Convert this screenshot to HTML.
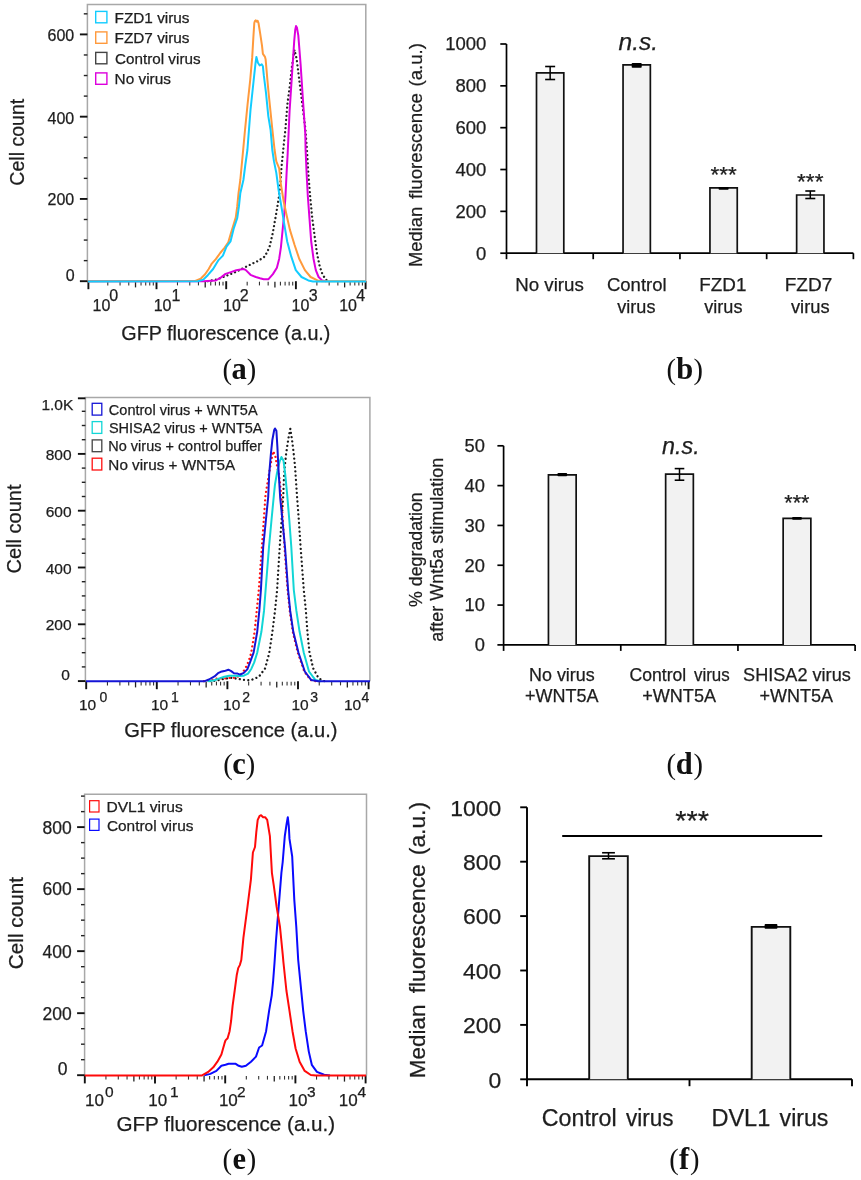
<!DOCTYPE html>
<html><head><meta charset="utf-8"><style>
html,body{margin:0;padding:0;background:#fff;}
svg{display:block;will-change:transform;}
svg text{stroke:#1a1a1a;stroke-width:0.25px;}
</style></head><body>
<svg width="861" height="1180" viewBox="0 0 861 1180">
<rect width="861" height="1180" fill="#fff"/>
<path d="M87.4,281.2V4.4H365.8V281.2" fill="none" stroke="#a8a8a8" stroke-width="1.5"/>
<line x1="79.90" y1="281.20" x2="87.40" y2="281.20" stroke="#111" stroke-width="1.9" />
<line x1="83.80" y1="260.63" x2="87.40" y2="260.63" stroke="#222" stroke-width="1.4" />
<line x1="83.80" y1="240.07" x2="87.40" y2="240.07" stroke="#222" stroke-width="1.4" />
<line x1="83.80" y1="219.50" x2="87.40" y2="219.50" stroke="#222" stroke-width="1.4" />
<line x1="79.90" y1="198.93" x2="87.40" y2="198.93" stroke="#111" stroke-width="1.9" />
<line x1="83.80" y1="178.37" x2="87.40" y2="178.37" stroke="#222" stroke-width="1.4" />
<line x1="83.80" y1="157.80" x2="87.40" y2="157.80" stroke="#222" stroke-width="1.4" />
<line x1="83.80" y1="137.23" x2="87.40" y2="137.23" stroke="#222" stroke-width="1.4" />
<line x1="79.90" y1="116.67" x2="87.40" y2="116.67" stroke="#111" stroke-width="1.9" />
<line x1="83.80" y1="96.10" x2="87.40" y2="96.10" stroke="#222" stroke-width="1.4" />
<line x1="83.80" y1="75.53" x2="87.40" y2="75.53" stroke="#222" stroke-width="1.4" />
<line x1="83.80" y1="54.97" x2="87.40" y2="54.97" stroke="#222" stroke-width="1.4" />
<line x1="79.90" y1="34.40" x2="87.40" y2="34.40" stroke="#111" stroke-width="1.9" />
<line x1="83.80" y1="13.83" x2="87.40" y2="13.83" stroke="#222" stroke-width="1.4" />
<line x1="88.40" y1="281.20" x2="88.40" y2="289.20" stroke="#111" stroke-width="1.9" />
<line x1="107.78" y1="281.70" x2="107.78" y2="285.40" stroke="#333" stroke-width="1.1" />
<line x1="120.06" y1="281.70" x2="120.06" y2="285.40" stroke="#333" stroke-width="1.1" />
<line x1="128.76" y1="281.70" x2="128.76" y2="285.40" stroke="#333" stroke-width="1.1" />
<line x1="135.52" y1="281.70" x2="135.52" y2="287.40" stroke="#222" stroke-width="1.3" />
<line x1="141.04" y1="281.70" x2="141.04" y2="285.40" stroke="#333" stroke-width="1.1" />
<line x1="145.70" y1="281.70" x2="145.70" y2="285.40" stroke="#333" stroke-width="1.1" />
<line x1="149.75" y1="281.70" x2="149.75" y2="285.40" stroke="#333" stroke-width="1.1" />
<line x1="153.31" y1="281.70" x2="153.31" y2="285.40" stroke="#333" stroke-width="1.1" />
<line x1="156.50" y1="281.20" x2="156.50" y2="289.20" stroke="#111" stroke-width="1.9" />
<line x1="177.48" y1="281.70" x2="177.48" y2="285.40" stroke="#333" stroke-width="1.1" />
<line x1="189.76" y1="281.70" x2="189.76" y2="285.40" stroke="#333" stroke-width="1.1" />
<line x1="198.46" y1="281.70" x2="198.46" y2="285.40" stroke="#333" stroke-width="1.1" />
<line x1="205.22" y1="281.70" x2="205.22" y2="287.40" stroke="#222" stroke-width="1.3" />
<line x1="210.74" y1="281.70" x2="210.74" y2="285.40" stroke="#333" stroke-width="1.1" />
<line x1="215.40" y1="281.70" x2="215.40" y2="285.40" stroke="#333" stroke-width="1.1" />
<line x1="219.45" y1="281.70" x2="219.45" y2="285.40" stroke="#333" stroke-width="1.1" />
<line x1="223.01" y1="281.70" x2="223.01" y2="285.40" stroke="#333" stroke-width="1.1" />
<line x1="226.20" y1="281.20" x2="226.20" y2="289.20" stroke="#111" stroke-width="1.9" />
<line x1="247.18" y1="281.70" x2="247.18" y2="285.40" stroke="#333" stroke-width="1.1" />
<line x1="259.46" y1="281.70" x2="259.46" y2="285.40" stroke="#333" stroke-width="1.1" />
<line x1="268.16" y1="281.70" x2="268.16" y2="285.40" stroke="#333" stroke-width="1.1" />
<line x1="274.92" y1="281.70" x2="274.92" y2="287.40" stroke="#222" stroke-width="1.3" />
<line x1="280.44" y1="281.70" x2="280.44" y2="285.40" stroke="#333" stroke-width="1.1" />
<line x1="285.10" y1="281.70" x2="285.10" y2="285.40" stroke="#333" stroke-width="1.1" />
<line x1="289.15" y1="281.70" x2="289.15" y2="285.40" stroke="#333" stroke-width="1.1" />
<line x1="292.71" y1="281.70" x2="292.71" y2="285.40" stroke="#333" stroke-width="1.1" />
<line x1="295.90" y1="281.20" x2="295.90" y2="289.20" stroke="#111" stroke-width="1.9" />
<line x1="316.88" y1="281.70" x2="316.88" y2="285.40" stroke="#333" stroke-width="1.1" />
<line x1="329.16" y1="281.70" x2="329.16" y2="285.40" stroke="#333" stroke-width="1.1" />
<line x1="337.86" y1="281.70" x2="337.86" y2="285.40" stroke="#333" stroke-width="1.1" />
<line x1="344.62" y1="281.70" x2="344.62" y2="287.40" stroke="#222" stroke-width="1.3" />
<line x1="350.14" y1="281.70" x2="350.14" y2="285.40" stroke="#333" stroke-width="1.1" />
<line x1="354.80" y1="281.70" x2="354.80" y2="285.40" stroke="#333" stroke-width="1.1" />
<line x1="358.85" y1="281.70" x2="358.85" y2="285.40" stroke="#333" stroke-width="1.1" />
<line x1="362.41" y1="281.70" x2="362.41" y2="285.40" stroke="#333" stroke-width="1.1" />
<line x1="365.60" y1="281.20" x2="365.60" y2="289.20" stroke="#111" stroke-width="1.9" />
<text x="74.60" y="280.60" font-family="Liberation Sans, sans-serif" font-size="16" text-anchor="end" font-weight="normal" font-style="normal" fill="#1e1e1e" >0</text>
<text x="74.20" y="204.80" font-family="Liberation Sans, sans-serif" font-size="16" text-anchor="end" font-weight="normal" font-style="normal" fill="#1e1e1e" >200</text>
<text x="74.20" y="123.70" font-family="Liberation Sans, sans-serif" font-size="16" text-anchor="end" font-weight="normal" font-style="normal" fill="#1e1e1e" >400</text>
<text x="74.20" y="40.80" font-family="Liberation Sans, sans-serif" font-size="16" text-anchor="end" font-weight="normal" font-style="normal" fill="#1e1e1e" >600</text>
<text x="92.60" y="311.10" font-family="Liberation Sans, sans-serif" font-size="16" fill="#1e1e1e">10</text>
<text x="109.20" y="301.40" font-family="Liberation Sans, sans-serif" font-size="16" fill="#1e1e1e">0</text>
<text x="153.70" y="311.10" font-family="Liberation Sans, sans-serif" font-size="16" fill="#1e1e1e">10</text>
<text x="171.40" y="301.40" font-family="Liberation Sans, sans-serif" font-size="16" fill="#1e1e1e">1</text>
<text x="223.10" y="311.10" font-family="Liberation Sans, sans-serif" font-size="16" fill="#1e1e1e">10</text>
<text x="239.80" y="301.40" font-family="Liberation Sans, sans-serif" font-size="16" fill="#1e1e1e">2</text>
<text x="291.60" y="311.10" font-family="Liberation Sans, sans-serif" font-size="16" fill="#1e1e1e">10</text>
<text x="308.70" y="301.40" font-family="Liberation Sans, sans-serif" font-size="16" fill="#1e1e1e">3</text>
<text x="339.20" y="311.10" font-family="Liberation Sans, sans-serif" font-size="16" fill="#1e1e1e">10</text>
<text x="356.20" y="301.40" font-family="Liberation Sans, sans-serif" font-size="16" fill="#1e1e1e">4</text>
<polyline points="207.8,281.2 216.7,279.6 225.6,276.1 234.5,272.5 243.4,268.1 252.3,263.6 258.0,261.0 264.9,256.4 269.4,247.3 272.9,232.4 275.7,216.4 278.6,199.2 280.3,184.3 281.5,167.2 283.2,150.0 285.5,128.2 287.3,105.0 289.6,87.6 291.9,66.7 294.5,49.9 296.6,58.6 299.5,81.8 302.4,105.0 305.3,128.2 307.0,150.0 308.3,172.9 310.1,195.8 312.3,218.6 314.6,235.8 316.9,253.0 319.8,266.7 322.6,274.7 326.1,279.8 329.0,281.2" fill="none" stroke="#222" stroke-width="2.3" stroke-linejoin="round" stroke-dasharray="0.01 4.1" stroke-linecap="round"/>
<polyline points="88.0,281.2 203.3,281.2 215.8,280.5 221.1,277.4 225.6,273.9 230.9,272.1 236.3,270.3 243.4,269.0 245.6,269.9 250.5,274.8 255.8,277.0 260.0,278.3 263.7,279.3 268.3,279.3 272.9,274.1 276.9,267.8 279.2,258.7 280.9,247.3 282.6,230.1 284.3,212.9 285.5,195.8 286.6,172.9 287.6,155.0 289.6,110.8 291.9,76.0 294.2,41.2 295.2,30.0 296.0,26.1 296.9,27.5 298.3,35.4 300.6,64.4 302.9,99.2 305.3,134.0 305.6,150.0 306.6,172.9 307.8,195.8 309.5,218.6 311.2,241.5 313.5,258.7 315.8,270.1 318.6,277.0 322.1,280.4 326.0,281.2" fill="none" stroke="#dd00dd" stroke-width="2.0" stroke-linejoin="round"/>
<polyline points="88.0,281.2 195.3,281.0 200.7,278.8 205.1,274.3 208.7,269.0 211.8,263.6 215.8,259.2 220.2,253.0 224.7,247.6 228.3,242.3 230.9,233.4 233.6,224.5 235.8,217.4 237.2,206.7 238.5,193.3 240.3,180.0 243.0,151.6 245.0,130.0 247.5,105.0 250.2,80.0 252.2,57.4 253.4,36.7 254.3,23.0 254.9,21.0 255.8,20.4 256.7,21.6 257.6,20.7 258.5,23.0 260.2,33.7 262.0,45.6 262.9,53.9 265.0,56.9 265.6,59.2 266.5,69.3 267.4,80.0 268.6,93.0 272.2,128.0 273.5,140.0 274.6,150.0 276.3,161.4 279.2,168.3 280.9,184.3 283.7,201.5 286.6,215.2 290.0,230.1 294.6,245.0 299.2,258.7 304.9,270.1 310.6,277.0 317.5,280.4 322.0,281.2 366.0,281.2" fill="none" stroke="#ff9a3c" stroke-width="2.0" stroke-linejoin="round"/>
<polyline points="88.0,281.4 198.0,281.2 203.3,279.6 207.8,275.2 213.1,269.0 218.5,260.1 222.9,255.6 226.5,246.7 230.5,241.4 233.6,228.9 237.2,218.3 238.9,206.7 240.3,193.3 243.4,180.0 245.3,165.0 247.4,150.0 250.5,110.0 253.7,80.0 255.5,63.4 256.4,56.9 257.9,62.8 259.7,65.5 261.7,64.3 262.9,66.3 263.8,75.2 264.4,80.0 266.0,92.9 268.3,116.1 270.6,130.0 272.3,150.0 274.0,161.4 276.3,172.9 278.6,190.0 281.5,207.2 284.3,224.4 287.2,241.5 291.2,256.4 295.8,270.1 301.5,277.0 308.3,280.4 313.0,281.4 366.0,281.4" fill="none" stroke="#12ccff" stroke-width="2.0" stroke-linejoin="round"/>
<rect x="95.70" y="11.40" width="11.20" height="11.40" fill="none" stroke="#12ccff" stroke-width="1.4"/>
<text x="114.54" y="22.50" font-family="Liberation Sans, sans-serif" font-size="15.30" font-style="normal" fill="#1e1e1e" textLength="75.01" lengthAdjust="spacingAndGlyphs" >FZD1 virus</text>
<rect x="95.70" y="31.90" width="11.20" height="11.40" fill="none" stroke="#ff9a3c" stroke-width="1.4"/>
<text x="114.54" y="43.40" font-family="Liberation Sans, sans-serif" font-size="15.30" font-style="normal" fill="#1e1e1e" textLength="75.01" lengthAdjust="spacingAndGlyphs" >FZD7 virus</text>
<rect x="95.70" y="52.40" width="11.20" height="11.40" fill="none" stroke="#444" stroke-width="1.4"/>
<text x="115.02" y="64.00" font-family="Liberation Sans, sans-serif" font-size="15.30" font-style="normal" fill="#1e1e1e" textLength="85.53" lengthAdjust="spacingAndGlyphs" >Control virus</text>
<rect x="95.70" y="72.90" width="11.20" height="11.40" fill="none" stroke="#dd00dd" stroke-width="1.4"/>
<text x="114.54" y="84.40" font-family="Liberation Sans, sans-serif" font-size="15.30" font-style="normal" fill="#1e1e1e" textLength="56.41" lengthAdjust="spacingAndGlyphs" >No virus</text>
<text x="0" y="0" transform="translate(24.10,185.69) rotate(-90)" font-family="Liberation Sans, sans-serif" font-size="19.57" fill="#1e1e1e" >Cell count</text>
<text x="121.31" y="340.00" font-family="Liberation Sans, sans-serif" font-size="19.74" font-style="normal" fill="#1e1e1e" >GFP fluorescence (a.u.)</text>
<text x="231.51" y="378.70" font-family="Liberation Serif, serif" font-size="30.5" font-weight="bold" fill="#111" style="stroke:none">a</text>
<text x="222.45" y="378.70" font-family="Liberation Serif, serif" font-size="28.5" fill="#111" style="stroke:none">(</text>
<text x="246.86" y="378.70" font-family="Liberation Serif, serif" font-size="28.5" fill="#111" style="stroke:none">)</text>
<path d="M85.4,681.2V397.4H369.9V681.2" fill="none" stroke="#a8a8a8" stroke-width="1.5"/>
<line x1="77.90" y1="681.10" x2="85.40" y2="681.10" stroke="#111" stroke-width="1.9" />
<line x1="81.80" y1="666.90" x2="85.40" y2="666.90" stroke="#222" stroke-width="1.4" />
<line x1="81.80" y1="652.70" x2="85.40" y2="652.70" stroke="#222" stroke-width="1.4" />
<line x1="81.80" y1="638.50" x2="85.40" y2="638.50" stroke="#222" stroke-width="1.4" />
<line x1="77.90" y1="624.30" x2="85.40" y2="624.30" stroke="#111" stroke-width="1.9" />
<line x1="81.80" y1="610.10" x2="85.40" y2="610.10" stroke="#222" stroke-width="1.4" />
<line x1="81.80" y1="595.90" x2="85.40" y2="595.90" stroke="#222" stroke-width="1.4" />
<line x1="81.80" y1="581.70" x2="85.40" y2="581.70" stroke="#222" stroke-width="1.4" />
<line x1="77.90" y1="567.50" x2="85.40" y2="567.50" stroke="#111" stroke-width="1.9" />
<line x1="81.80" y1="553.30" x2="85.40" y2="553.30" stroke="#222" stroke-width="1.4" />
<line x1="81.80" y1="539.10" x2="85.40" y2="539.10" stroke="#222" stroke-width="1.4" />
<line x1="81.80" y1="524.90" x2="85.40" y2="524.90" stroke="#222" stroke-width="1.4" />
<line x1="77.90" y1="510.70" x2="85.40" y2="510.70" stroke="#111" stroke-width="1.9" />
<line x1="81.80" y1="496.50" x2="85.40" y2="496.50" stroke="#222" stroke-width="1.4" />
<line x1="81.80" y1="482.30" x2="85.40" y2="482.30" stroke="#222" stroke-width="1.4" />
<line x1="81.80" y1="468.10" x2="85.40" y2="468.10" stroke="#222" stroke-width="1.4" />
<line x1="77.90" y1="453.90" x2="85.40" y2="453.90" stroke="#111" stroke-width="1.9" />
<line x1="81.80" y1="439.70" x2="85.40" y2="439.70" stroke="#222" stroke-width="1.4" />
<line x1="81.80" y1="425.50" x2="85.40" y2="425.50" stroke="#222" stroke-width="1.4" />
<line x1="81.80" y1="411.30" x2="85.40" y2="411.30" stroke="#222" stroke-width="1.4" />
<line x1="77.90" y1="398.30" x2="85.40" y2="398.30" stroke="#111" stroke-width="1.9" />
<line x1="86.20" y1="681.20" x2="86.20" y2="689.20" stroke="#111" stroke-width="1.9" />
<line x1="107.45" y1="681.70" x2="107.45" y2="685.40" stroke="#333" stroke-width="1.1" />
<line x1="119.88" y1="681.70" x2="119.88" y2="685.40" stroke="#333" stroke-width="1.1" />
<line x1="128.71" y1="681.70" x2="128.71" y2="685.40" stroke="#333" stroke-width="1.1" />
<line x1="135.55" y1="681.70" x2="135.55" y2="687.40" stroke="#222" stroke-width="1.3" />
<line x1="141.14" y1="681.70" x2="141.14" y2="685.40" stroke="#333" stroke-width="1.1" />
<line x1="145.86" y1="681.70" x2="145.86" y2="685.40" stroke="#333" stroke-width="1.1" />
<line x1="149.96" y1="681.70" x2="149.96" y2="685.40" stroke="#333" stroke-width="1.1" />
<line x1="153.57" y1="681.70" x2="153.57" y2="685.40" stroke="#333" stroke-width="1.1" />
<line x1="156.80" y1="681.20" x2="156.80" y2="689.20" stroke="#111" stroke-width="1.9" />
<line x1="178.05" y1="681.70" x2="178.05" y2="685.40" stroke="#333" stroke-width="1.1" />
<line x1="190.48" y1="681.70" x2="190.48" y2="685.40" stroke="#333" stroke-width="1.1" />
<line x1="199.31" y1="681.70" x2="199.31" y2="685.40" stroke="#333" stroke-width="1.1" />
<line x1="206.15" y1="681.70" x2="206.15" y2="687.40" stroke="#222" stroke-width="1.3" />
<line x1="211.74" y1="681.70" x2="211.74" y2="685.40" stroke="#333" stroke-width="1.1" />
<line x1="216.46" y1="681.70" x2="216.46" y2="685.40" stroke="#333" stroke-width="1.1" />
<line x1="220.56" y1="681.70" x2="220.56" y2="685.40" stroke="#333" stroke-width="1.1" />
<line x1="224.17" y1="681.70" x2="224.17" y2="685.40" stroke="#333" stroke-width="1.1" />
<line x1="227.40" y1="681.20" x2="227.40" y2="689.20" stroke="#111" stroke-width="1.9" />
<line x1="248.65" y1="681.70" x2="248.65" y2="685.40" stroke="#333" stroke-width="1.1" />
<line x1="261.08" y1="681.70" x2="261.08" y2="685.40" stroke="#333" stroke-width="1.1" />
<line x1="269.91" y1="681.70" x2="269.91" y2="685.40" stroke="#333" stroke-width="1.1" />
<line x1="276.75" y1="681.70" x2="276.75" y2="687.40" stroke="#222" stroke-width="1.3" />
<line x1="282.34" y1="681.70" x2="282.34" y2="685.40" stroke="#333" stroke-width="1.1" />
<line x1="287.06" y1="681.70" x2="287.06" y2="685.40" stroke="#333" stroke-width="1.1" />
<line x1="291.16" y1="681.70" x2="291.16" y2="685.40" stroke="#333" stroke-width="1.1" />
<line x1="294.77" y1="681.70" x2="294.77" y2="685.40" stroke="#333" stroke-width="1.1" />
<line x1="298.00" y1="681.20" x2="298.00" y2="689.20" stroke="#111" stroke-width="1.9" />
<line x1="319.25" y1="681.70" x2="319.25" y2="685.40" stroke="#333" stroke-width="1.1" />
<line x1="331.68" y1="681.70" x2="331.68" y2="685.40" stroke="#333" stroke-width="1.1" />
<line x1="340.51" y1="681.70" x2="340.51" y2="685.40" stroke="#333" stroke-width="1.1" />
<line x1="347.35" y1="681.70" x2="347.35" y2="687.40" stroke="#222" stroke-width="1.3" />
<line x1="352.94" y1="681.70" x2="352.94" y2="685.40" stroke="#333" stroke-width="1.1" />
<line x1="357.66" y1="681.70" x2="357.66" y2="685.40" stroke="#333" stroke-width="1.1" />
<line x1="361.76" y1="681.70" x2="361.76" y2="685.40" stroke="#333" stroke-width="1.1" />
<line x1="365.37" y1="681.70" x2="365.37" y2="685.40" stroke="#333" stroke-width="1.1" />
<line x1="368.60" y1="681.20" x2="368.60" y2="689.20" stroke="#111" stroke-width="1.9" />
<text x="69.90" y="680.20" font-family="Liberation Sans, sans-serif" font-size="15.5" text-anchor="end" font-weight="normal" font-style="normal" fill="#1e1e1e" >0</text>
<text x="71.60" y="630.00" font-family="Liberation Sans, sans-serif" font-size="15.5" text-anchor="end" font-weight="normal" font-style="normal" fill="#1e1e1e" >200</text>
<text x="71.60" y="573.50" font-family="Liberation Sans, sans-serif" font-size="15.5" text-anchor="end" font-weight="normal" font-style="normal" fill="#1e1e1e" >400</text>
<text x="71.60" y="517.00" font-family="Liberation Sans, sans-serif" font-size="15.5" text-anchor="end" font-weight="normal" font-style="normal" fill="#1e1e1e" >600</text>
<text x="71.60" y="460.00" font-family="Liberation Sans, sans-serif" font-size="15.5" text-anchor="end" font-weight="normal" font-style="normal" fill="#1e1e1e" >800</text>
<text x="73.30" y="410.00" font-family="Liberation Sans, sans-serif" font-size="15.5" text-anchor="end" font-weight="normal" font-style="normal" fill="#1e1e1e" >1.0K</text>
<text x="78.90" y="710.00" font-family="Liberation Sans, sans-serif" font-size="15.5" fill="#1e1e1e">10</text>
<text x="99.45" y="702.00" font-family="Liberation Sans, sans-serif" font-size="14" fill="#1e1e1e">0</text>
<text x="150.90" y="710.00" font-family="Liberation Sans, sans-serif" font-size="15.5" fill="#1e1e1e">10</text>
<text x="170.90" y="702.00" font-family="Liberation Sans, sans-serif" font-size="14" fill="#1e1e1e">1</text>
<text x="223.10" y="710.00" font-family="Liberation Sans, sans-serif" font-size="15.5" fill="#1e1e1e">10</text>
<text x="242.20" y="702.00" font-family="Liberation Sans, sans-serif" font-size="14" fill="#1e1e1e">2</text>
<text x="291.50" y="710.00" font-family="Liberation Sans, sans-serif" font-size="15.5" fill="#1e1e1e">10</text>
<text x="310.20" y="702.00" font-family="Liberation Sans, sans-serif" font-size="14" fill="#1e1e1e">3</text>
<text x="343.90" y="710.00" font-family="Liberation Sans, sans-serif" font-size="15.5" fill="#1e1e1e">10</text>
<text x="361.50" y="702.00" font-family="Liberation Sans, sans-serif" font-size="14" fill="#1e1e1e">4</text>
<polyline points="210.0,681.2 214.5,680.9 222.9,679.1 231.2,677.8 239.6,679.1 243.1,679.9 250.5,680.4 258.8,676.8 265.1,668.4 269.3,652.7 272.4,631.8 275.0,610.9 277.1,590.0 279.7,547.0 281.6,520.0 283.3,495.0 283.8,481.0 284.8,466.1 286.2,453.2 287.5,444.4 288.9,435.6 290.3,428.8 292.0,439.7 293.6,452.5 295.0,466.1 296.0,481.0 297.0,496.0 298.8,520.0 300.6,547.0 303.8,590.0 305.9,610.9 307.4,631.8 309.5,652.7 313.2,668.4 318.4,677.8 322.6,680.9 326.0,681.2" fill="none" stroke="#1a1a1a" stroke-width="2.3" stroke-linejoin="round" stroke-dasharray="0.01 4.3" stroke-linecap="round"/>
<polyline points="204.0,681.2 212.4,679.8 218.0,678.4 224.3,678.4 231.2,677.8 235.4,677.8 239.6,675.7 243.8,670.8 246.6,665.9 248.7,661.0 251.1,653.4 254.6,631.8 256.7,610.9 258.8,590.0 261.9,547.0 265.5,495.0 268.6,476.3 271.3,460.7 273.2,451.2 275.3,455.9 276.7,464.1 279.4,477.6 281.4,498.0 284.5,547.0 287.6,590.0 289.8,610.9 292.8,631.8 297.8,652.7 304.3,671.5 310.6,679.9 316.0,681.2" fill="none" stroke="#ff1010" stroke-width="2.3" stroke-linejoin="round" stroke-dasharray="0.01 4.3" stroke-linecap="round"/>
<polyline points="207.5,681.2 214.5,680.2 219.4,678.4 224.3,676.7 229.1,675.7 234.0,675.7 239.6,676.0 243.8,675.7 248.0,673.6 251.4,668.7 254.2,662.4 257.2,652.7 261.4,631.8 264.0,610.9 265.6,590.0 269.0,547.0 271.5,520.0 273.9,495.0 275.0,484.4 277.0,472.9 279.5,462.0 281.4,457.0 283.5,460.7 285.2,474.2 287.2,495.0 289.3,520.0 291.3,547.0 293.8,590.0 296.4,610.9 299.6,631.8 303.8,652.7 309.0,671.5 315.3,679.9 321.0,681.2" fill="none" stroke="#12d6d6" stroke-width="2.0" stroke-linejoin="round"/>
<polyline points="86.0,681.2 204.8,681.2 208.9,679.5 214.5,676.4 218.0,673.2 220.8,671.8 224.3,671.1 228.4,669.7 231.2,671.1 234.0,673.2 237.5,673.6 240.3,674.6 243.8,672.9 247.3,669.4 250.0,662.4 253.6,652.7 257.2,631.8 259.3,610.9 260.9,590.0 263.2,547.0 265.9,520.0 268.2,497.0 269.2,474.2 270.9,453.9 272.3,440.3 274.2,430.0 275.0,428.5 276.4,430.8 277.4,447.1 278.4,467.5 279.4,484.4 280.2,498.0 282.4,520.0 285.0,547.0 288.1,590.0 290.2,610.9 293.3,631.8 298.5,652.7 304.8,671.5 311.1,679.9 318.4,681.2 370.0,681.2" fill="none" stroke="#1414d6" stroke-width="2.0" stroke-linejoin="round"/>
<rect x="92.20" y="403.30" width="9.60" height="11.80" fill="none" stroke="#1414d6" stroke-width="1.3"/>
<text x="108.84" y="414.70" font-family="Liberation Sans, sans-serif" font-size="15.00" font-style="normal" fill="#1e1e1e" textLength="148.79" lengthAdjust="spacingAndGlyphs" >Control virus + WNT5A</text>
<rect x="92.20" y="421.60" width="9.60" height="11.80" fill="none" stroke="#12d6d6" stroke-width="1.3"/>
<text x="108.92" y="432.90" font-family="Liberation Sans, sans-serif" font-size="15.00" font-style="normal" fill="#1e1e1e" textLength="153.61" lengthAdjust="spacingAndGlyphs" >SHISA2 virus + WNT5A</text>
<rect x="92.20" y="439.90" width="9.60" height="11.80" fill="none" stroke="#444" stroke-width="1.3"/>
<text x="108.37" y="451.00" font-family="Liberation Sans, sans-serif" font-size="15.00" font-style="normal" fill="#1e1e1e" textLength="153.68" lengthAdjust="spacingAndGlyphs" >No virus + control buffer</text>
<rect x="92.20" y="458.20" width="9.60" height="11.80" fill="none" stroke="#ff1010" stroke-width="1.3"/>
<text x="108.37" y="469.60" font-family="Liberation Sans, sans-serif" font-size="15.00" font-style="normal" fill="#1e1e1e" textLength="126.76" lengthAdjust="spacingAndGlyphs" >No virus + WNT5A</text>
<text x="0" y="0" transform="translate(20.80,573.52) rotate(-90)" font-family="Liberation Sans, sans-serif" font-size="20.03" fill="#1e1e1e" >Cell count</text>
<text x="124.19" y="736.70" font-family="Liberation Sans, sans-serif" font-size="20.14" font-style="normal" fill="#1e1e1e" >GFP fluorescence (a.u.)</text>
<text x="232.34" y="773.50" font-family="Liberation Serif, serif" font-size="30.5" font-weight="bold" fill="#111" style="stroke:none">c</text>
<text x="223.35" y="773.50" font-family="Liberation Serif, serif" font-size="28.5" fill="#111" style="stroke:none">(</text>
<text x="245.66" y="773.50" font-family="Liberation Serif, serif" font-size="28.5" fill="#111" style="stroke:none">)</text>
<path d="M84.6,1075.4V794.3H366.5V1075.4" fill="none" stroke="#a8a8a8" stroke-width="1.5"/>
<line x1="77.10" y1="1075.20" x2="84.60" y2="1075.20" stroke="#111" stroke-width="1.9" />
<line x1="81.00" y1="1059.69" x2="84.60" y2="1059.69" stroke="#222" stroke-width="1.4" />
<line x1="81.00" y1="1044.19" x2="84.60" y2="1044.19" stroke="#222" stroke-width="1.4" />
<line x1="81.00" y1="1028.68" x2="84.60" y2="1028.68" stroke="#222" stroke-width="1.4" />
<line x1="77.10" y1="1013.18" x2="84.60" y2="1013.18" stroke="#111" stroke-width="1.9" />
<line x1="81.00" y1="997.68" x2="84.60" y2="997.68" stroke="#222" stroke-width="1.4" />
<line x1="81.00" y1="982.17" x2="84.60" y2="982.17" stroke="#222" stroke-width="1.4" />
<line x1="81.00" y1="966.67" x2="84.60" y2="966.67" stroke="#222" stroke-width="1.4" />
<line x1="77.10" y1="951.16" x2="84.60" y2="951.16" stroke="#111" stroke-width="1.9" />
<line x1="81.00" y1="935.66" x2="84.60" y2="935.66" stroke="#222" stroke-width="1.4" />
<line x1="81.00" y1="920.15" x2="84.60" y2="920.15" stroke="#222" stroke-width="1.4" />
<line x1="81.00" y1="904.64" x2="84.60" y2="904.64" stroke="#222" stroke-width="1.4" />
<line x1="77.10" y1="889.14" x2="84.60" y2="889.14" stroke="#111" stroke-width="1.9" />
<line x1="81.00" y1="873.63" x2="84.60" y2="873.63" stroke="#222" stroke-width="1.4" />
<line x1="81.00" y1="858.13" x2="84.60" y2="858.13" stroke="#222" stroke-width="1.4" />
<line x1="81.00" y1="842.62" x2="84.60" y2="842.62" stroke="#222" stroke-width="1.4" />
<line x1="77.10" y1="827.12" x2="84.60" y2="827.12" stroke="#111" stroke-width="1.9" />
<line x1="81.00" y1="811.62" x2="84.60" y2="811.62" stroke="#222" stroke-width="1.4" />
<line x1="81.00" y1="796.11" x2="84.60" y2="796.11" stroke="#222" stroke-width="1.4" />
<line x1="84.80" y1="1075.40" x2="84.80" y2="1083.40" stroke="#111" stroke-width="1.9" />
<line x1="105.93" y1="1075.90" x2="105.93" y2="1079.60" stroke="#333" stroke-width="1.1" />
<line x1="118.29" y1="1075.90" x2="118.29" y2="1079.60" stroke="#333" stroke-width="1.1" />
<line x1="127.06" y1="1075.90" x2="127.06" y2="1079.60" stroke="#333" stroke-width="1.1" />
<line x1="133.87" y1="1075.90" x2="133.87" y2="1081.60" stroke="#222" stroke-width="1.3" />
<line x1="139.43" y1="1075.90" x2="139.43" y2="1079.60" stroke="#333" stroke-width="1.1" />
<line x1="144.13" y1="1075.90" x2="144.13" y2="1079.60" stroke="#333" stroke-width="1.1" />
<line x1="148.20" y1="1075.90" x2="148.20" y2="1079.60" stroke="#333" stroke-width="1.1" />
<line x1="151.79" y1="1075.90" x2="151.79" y2="1079.60" stroke="#333" stroke-width="1.1" />
<line x1="155.00" y1="1075.40" x2="155.00" y2="1083.40" stroke="#111" stroke-width="1.9" />
<line x1="176.13" y1="1075.90" x2="176.13" y2="1079.60" stroke="#333" stroke-width="1.1" />
<line x1="188.49" y1="1075.90" x2="188.49" y2="1079.60" stroke="#333" stroke-width="1.1" />
<line x1="197.26" y1="1075.90" x2="197.26" y2="1079.60" stroke="#333" stroke-width="1.1" />
<line x1="204.07" y1="1075.90" x2="204.07" y2="1081.60" stroke="#222" stroke-width="1.3" />
<line x1="209.63" y1="1075.90" x2="209.63" y2="1079.60" stroke="#333" stroke-width="1.1" />
<line x1="214.33" y1="1075.90" x2="214.33" y2="1079.60" stroke="#333" stroke-width="1.1" />
<line x1="218.40" y1="1075.90" x2="218.40" y2="1079.60" stroke="#333" stroke-width="1.1" />
<line x1="221.99" y1="1075.90" x2="221.99" y2="1079.60" stroke="#333" stroke-width="1.1" />
<line x1="225.20" y1="1075.40" x2="225.20" y2="1083.40" stroke="#111" stroke-width="1.9" />
<line x1="246.33" y1="1075.90" x2="246.33" y2="1079.60" stroke="#333" stroke-width="1.1" />
<line x1="258.69" y1="1075.90" x2="258.69" y2="1079.60" stroke="#333" stroke-width="1.1" />
<line x1="267.46" y1="1075.90" x2="267.46" y2="1079.60" stroke="#333" stroke-width="1.1" />
<line x1="274.27" y1="1075.90" x2="274.27" y2="1081.60" stroke="#222" stroke-width="1.3" />
<line x1="279.83" y1="1075.90" x2="279.83" y2="1079.60" stroke="#333" stroke-width="1.1" />
<line x1="284.53" y1="1075.90" x2="284.53" y2="1079.60" stroke="#333" stroke-width="1.1" />
<line x1="288.60" y1="1075.90" x2="288.60" y2="1079.60" stroke="#333" stroke-width="1.1" />
<line x1="292.19" y1="1075.90" x2="292.19" y2="1079.60" stroke="#333" stroke-width="1.1" />
<line x1="295.40" y1="1075.40" x2="295.40" y2="1083.40" stroke="#111" stroke-width="1.9" />
<line x1="316.53" y1="1075.90" x2="316.53" y2="1079.60" stroke="#333" stroke-width="1.1" />
<line x1="328.89" y1="1075.90" x2="328.89" y2="1079.60" stroke="#333" stroke-width="1.1" />
<line x1="337.66" y1="1075.90" x2="337.66" y2="1079.60" stroke="#333" stroke-width="1.1" />
<line x1="344.47" y1="1075.90" x2="344.47" y2="1081.60" stroke="#222" stroke-width="1.3" />
<line x1="350.03" y1="1075.90" x2="350.03" y2="1079.60" stroke="#333" stroke-width="1.1" />
<line x1="354.73" y1="1075.90" x2="354.73" y2="1079.60" stroke="#333" stroke-width="1.1" />
<line x1="358.80" y1="1075.90" x2="358.80" y2="1079.60" stroke="#333" stroke-width="1.1" />
<line x1="362.39" y1="1075.90" x2="362.39" y2="1079.60" stroke="#333" stroke-width="1.1" />
<line x1="365.60" y1="1075.40" x2="365.60" y2="1083.40" stroke="#111" stroke-width="1.9" />
<text x="67.50" y="1074.50" font-family="Liberation Sans, sans-serif" font-size="17.5" text-anchor="end" font-weight="normal" font-style="normal" fill="#1e1e1e" >0</text>
<text x="71.70" y="1019.50" font-family="Liberation Sans, sans-serif" font-size="17.5" text-anchor="end" font-weight="normal" font-style="normal" fill="#1e1e1e" >200</text>
<text x="71.70" y="957.80" font-family="Liberation Sans, sans-serif" font-size="17.5" text-anchor="end" font-weight="normal" font-style="normal" fill="#1e1e1e" >400</text>
<text x="71.70" y="895.40" font-family="Liberation Sans, sans-serif" font-size="17.5" text-anchor="end" font-weight="normal" font-style="normal" fill="#1e1e1e" >600</text>
<text x="71.70" y="833.50" font-family="Liberation Sans, sans-serif" font-size="17.5" text-anchor="end" font-weight="normal" font-style="normal" fill="#1e1e1e" >800</text>
<text x="85.10" y="1105.50" font-family="Liberation Sans, sans-serif" font-size="17" fill="#1e1e1e">10</text>
<text x="105.00" y="1096.50" font-family="Liberation Sans, sans-serif" font-size="15.5" fill="#1e1e1e">0</text>
<text x="148.20" y="1105.50" font-family="Liberation Sans, sans-serif" font-size="17" fill="#1e1e1e">10</text>
<text x="170.00" y="1096.50" font-family="Liberation Sans, sans-serif" font-size="15.5" fill="#1e1e1e">1</text>
<text x="218.90" y="1105.50" font-family="Liberation Sans, sans-serif" font-size="17" fill="#1e1e1e">10</text>
<text x="237.10" y="1096.50" font-family="Liberation Sans, sans-serif" font-size="15.5" fill="#1e1e1e">2</text>
<text x="288.60" y="1105.50" font-family="Liberation Sans, sans-serif" font-size="17" fill="#1e1e1e">10</text>
<text x="307.00" y="1096.50" font-family="Liberation Sans, sans-serif" font-size="15.5" fill="#1e1e1e">3</text>
<text x="338.80" y="1105.50" font-family="Liberation Sans, sans-serif" font-size="17" fill="#1e1e1e">10</text>
<text x="357.40" y="1096.50" font-family="Liberation Sans, sans-serif" font-size="15.5" fill="#1e1e1e">4</text>
<polyline points="204.2,1075.4 210.3,1073.9 216.4,1070.9 221.4,1065.8 225.5,1064.8 228.6,1063.8 235.7,1063.8 238.7,1065.8 241.8,1066.8 245.9,1065.8 251.0,1061.7 256.0,1056.6 259.1,1047.5 262.1,1045.5 266.1,1031.2 269.1,1010.9 271.7,995.6 273.2,980.3 274.5,963.0 276.0,940.6 278.7,906.7 281.4,872.8 282.7,862.0 284.8,836.2 286.6,824.0 287.8,817.2 288.8,826.0 289.5,838.9 292.2,856.5 294.3,899.9 296.3,927.0 298.2,960.0 300.7,985.4 303.2,1010.9 305.7,1031.2 308.8,1051.6 311.8,1064.8 316.9,1071.9 324.1,1074.8 330.0,1075.4" fill="none" stroke="#0a0aff" stroke-width="2.0" stroke-linejoin="round"/>
<polyline points="84.8,1075.4 202.1,1075.4 208.2,1071.9 213.3,1067.3 217.4,1061.7 221.4,1054.6 224.5,1043.4 225.5,1040.4 227.6,1038.3 229.6,1031.2 231.1,1021.0 232.6,1005.8 234.7,990.5 236.7,975.3 238.2,968.1 239.8,965.1 241.3,960.0 243.4,937.9 247.5,906.7 250.9,879.6 252.9,852.5 255.0,847.0 256.3,832.1 257.7,819.9 259.7,815.8 261.1,815.2 263.1,817.2 265.1,817.2 267.2,819.9 269.9,836.2 271.9,872.8 273.9,886.4 276.6,906.7 280.0,927.0 282.7,954.2 283.4,962.0 286.4,990.5 289.5,1010.9 292.5,1031.2 295.6,1048.5 299.6,1061.7 304.7,1070.9 310.8,1075.0 316.0,1075.4 366.0,1075.4" fill="none" stroke="#ff0a0a" stroke-width="2.0" stroke-linejoin="round"/>
<rect x="89.60" y="800.70" width="9.40" height="11.30" fill="none" stroke="#ff0a0a" stroke-width="1.2"/>
<text x="106.43" y="812.40" font-family="Liberation Sans, sans-serif" font-size="15.50" font-style="normal" fill="#1e1e1e" textLength="76.33" lengthAdjust="spacingAndGlyphs" >DVL1 virus</text>
<rect x="89.60" y="819.10" width="9.40" height="11.30" fill="none" stroke="#0a0aff" stroke-width="1.2"/>
<text x="106.91" y="830.80" font-family="Liberation Sans, sans-serif" font-size="15.50" font-style="normal" fill="#1e1e1e" textLength="86.55" lengthAdjust="spacingAndGlyphs" >Control virus</text>
<text x="0" y="0" transform="translate(22.50,969.15) rotate(-90)" font-family="Liberation Sans, sans-serif" font-size="20.74" fill="#1e1e1e" >Cell count</text>
<text x="116.46" y="1131.20" font-family="Liberation Sans, sans-serif" font-size="20.65" font-style="normal" fill="#1e1e1e" >GFP fluorescence (a.u.)</text>
<text x="232.50" y="1168.80" font-family="Liberation Serif, serif" font-size="30.5" font-weight="bold" fill="#111" style="stroke:none">e</text>
<text x="222.45" y="1168.80" font-family="Liberation Serif, serif" font-size="28.5" fill="#111" style="stroke:none">(</text>
<text x="246.86" y="1168.80" font-family="Liberation Serif, serif" font-size="28.5" fill="#111" style="stroke:none">)</text>
<line x1="506.50" y1="44.00" x2="506.50" y2="253.20" stroke="#000" stroke-width="1.7" />
<line x1="506.50" y1="253.20" x2="853.40" y2="253.20" stroke="#000" stroke-width="1.7" />
<line x1="500.30" y1="253.20" x2="506.50" y2="253.20" stroke="#000" stroke-width="1.7" />
<text x="476.03" y="259.60" font-family="Liberation Sans, sans-serif" font-size="18.5" fill="#1e1e1e">0</text>
<line x1="500.30" y1="211.36" x2="506.50" y2="211.36" stroke="#000" stroke-width="1.7" />
<text x="455.46" y="217.76" font-family="Liberation Sans, sans-serif" font-size="18.5" fill="#1e1e1e">200</text>
<line x1="500.30" y1="169.52" x2="506.50" y2="169.52" stroke="#000" stroke-width="1.7" />
<text x="455.46" y="175.92" font-family="Liberation Sans, sans-serif" font-size="18.5" fill="#1e1e1e">400</text>
<line x1="500.30" y1="127.68" x2="506.50" y2="127.68" stroke="#000" stroke-width="1.7" />
<text x="455.46" y="134.08" font-family="Liberation Sans, sans-serif" font-size="18.5" fill="#1e1e1e">600</text>
<line x1="500.30" y1="85.84" x2="506.50" y2="85.84" stroke="#000" stroke-width="1.7" />
<text x="455.46" y="92.24" font-family="Liberation Sans, sans-serif" font-size="18.5" fill="#1e1e1e">800</text>
<line x1="500.30" y1="44.00" x2="506.50" y2="44.00" stroke="#000" stroke-width="1.7" />
<text x="445.17" y="50.40" font-family="Liberation Sans, sans-serif" font-size="18.5" fill="#1e1e1e">1000</text>
<line x1="506.50" y1="253.20" x2="506.50" y2="259.20" stroke="#000" stroke-width="1.7" />
<line x1="593.22" y1="253.20" x2="593.22" y2="259.20" stroke="#000" stroke-width="1.7" />
<line x1="679.94" y1="253.20" x2="679.94" y2="259.20" stroke="#000" stroke-width="1.7" />
<line x1="766.66" y1="253.20" x2="766.66" y2="259.20" stroke="#000" stroke-width="1.7" />
<line x1="853.38" y1="253.20" x2="853.38" y2="259.20" stroke="#000" stroke-width="1.7" />
<path d="M536.50,253.20V72.80H563.80V253.20" fill="#f2f2f2" stroke="#111" stroke-width="1.7"/>
<line x1="550.15" y1="66.50" x2="550.15" y2="79.50" stroke="#000" stroke-width="1.5" />
<line x1="545.15" y1="66.50" x2="555.15" y2="66.50" stroke="#000" stroke-width="1.6" />
<line x1="545.15" y1="79.50" x2="555.15" y2="79.50" stroke="#000" stroke-width="1.6" />
<path d="M623.05,253.20V64.90H650.35V253.20" fill="#f2f2f2" stroke="#111" stroke-width="1.7"/>
<rect x="631.70" y="62.90" width="10.00" height="4.80" rx="0.8" fill="#000"/>
<path d="M709.95,253.20V187.90H737.25V253.20" fill="#f2f2f2" stroke="#111" stroke-width="1.7"/>
<rect x="718.60" y="186.90" width="10.00" height="2.80" rx="0.8" fill="#000"/>
<path d="M796.65,253.20V195.00H823.95V253.20" fill="#f2f2f2" stroke="#111" stroke-width="1.7"/>
<line x1="810.30" y1="191.00" x2="810.30" y2="198.50" stroke="#000" stroke-width="1.5" />
<line x1="805.30" y1="191.00" x2="815.30" y2="191.00" stroke="#000" stroke-width="1.6" />
<line x1="805.30" y1="198.50" x2="815.30" y2="198.50" stroke="#000" stroke-width="1.6" />
<text x="618.49" y="49.50" font-family="Liberation Sans, sans-serif" font-size="24.58" font-style="italic" fill="#1e1e1e" >n.s.</text>
<text x="710.55" y="182.37" font-family="Liberation Sans, sans-serif" font-size="21.50" font-style="normal" fill="#1e1e1e" textLength="26.28" lengthAdjust="spacingAndGlyphs" >***</text>
<text x="797.05" y="189.37" font-family="Liberation Sans, sans-serif" font-size="21.50" font-style="normal" fill="#1e1e1e" textLength="26.38" lengthAdjust="spacingAndGlyphs" >***</text>
<text x="515.27" y="291.20" font-family="Liberation Sans, sans-serif" font-size="18.71" font-style="normal" fill="#1e1e1e" >No virus</text>
<text x="606.96" y="291.10" font-family="Liberation Sans, sans-serif" font-size="18.51" font-style="normal" fill="#1e1e1e" >Control</text>
<text x="617.34" y="313.30" font-family="Liberation Sans, sans-serif" font-size="18.30" font-style="normal" fill="#1e1e1e" textLength="38.12" lengthAdjust="spacingAndGlyphs" >virus</text>
<text x="699.36" y="291.00" font-family="Liberation Sans, sans-serif" font-size="18.83" font-style="normal" fill="#1e1e1e" >FZD1</text>
<text x="704.24" y="313.30" font-family="Liberation Sans, sans-serif" font-size="18.30" font-style="normal" fill="#1e1e1e" textLength="38.22" lengthAdjust="spacingAndGlyphs" >virus</text>
<text x="784.74" y="291.00" font-family="Liberation Sans, sans-serif" font-size="19.05" font-style="normal" fill="#1e1e1e" >FZD7</text>
<text x="790.94" y="313.30" font-family="Liberation Sans, sans-serif" font-size="18.30" font-style="normal" fill="#1e1e1e" textLength="38.62" lengthAdjust="spacingAndGlyphs" >virus</text>
<text x="0" y="0" transform="translate(421.80,267.03) rotate(-90)" font-family="Liberation Sans, sans-serif" font-size="18.60" fill="#1e1e1e" textLength="60.23" lengthAdjust="spacingAndGlyphs" >Median</text>
<text x="0" y="0" transform="translate(421.80,199.06) rotate(-90)" font-family="Liberation Sans, sans-serif" font-size="18.60" fill="#1e1e1e" textLength="106.09" lengthAdjust="spacingAndGlyphs" >fluorescence</text>
<text x="0" y="0" transform="translate(421.80,86.55) rotate(-90)" font-family="Liberation Sans, sans-serif" font-size="18.60" fill="#1e1e1e" textLength="43.51" lengthAdjust="spacingAndGlyphs" >(a.u.)</text>
<text x="676.19" y="378.70" font-family="Liberation Serif, serif" font-size="30.5" font-weight="bold" fill="#111" style="stroke:none">b</text>
<text x="666.55" y="378.70" font-family="Liberation Serif, serif" font-size="28.5" fill="#111" style="stroke:none">(</text>
<text x="693.56" y="378.70" font-family="Liberation Serif, serif" font-size="28.5" fill="#111" style="stroke:none">)</text>
<line x1="503.60" y1="445.80" x2="503.60" y2="644.90" stroke="#000" stroke-width="1.7" />
<line x1="503.60" y1="644.90" x2="855.10" y2="644.90" stroke="#000" stroke-width="1.7" />
<line x1="497.40" y1="644.90" x2="503.60" y2="644.90" stroke="#000" stroke-width="1.7" />
<text x="474.74" y="651.30" font-family="Liberation Sans, sans-serif" font-size="18.3" fill="#1e1e1e">0</text>
<line x1="497.40" y1="605.08" x2="503.60" y2="605.08" stroke="#000" stroke-width="1.7" />
<text x="464.56" y="611.48" font-family="Liberation Sans, sans-serif" font-size="18.3" fill="#1e1e1e">10</text>
<line x1="497.40" y1="565.26" x2="503.60" y2="565.26" stroke="#000" stroke-width="1.7" />
<text x="464.56" y="571.66" font-family="Liberation Sans, sans-serif" font-size="18.3" fill="#1e1e1e">20</text>
<line x1="497.40" y1="525.44" x2="503.60" y2="525.44" stroke="#000" stroke-width="1.7" />
<text x="464.56" y="531.84" font-family="Liberation Sans, sans-serif" font-size="18.3" fill="#1e1e1e">30</text>
<line x1="497.40" y1="485.62" x2="503.60" y2="485.62" stroke="#000" stroke-width="1.7" />
<text x="464.56" y="492.02" font-family="Liberation Sans, sans-serif" font-size="18.3" fill="#1e1e1e">40</text>
<line x1="497.40" y1="445.80" x2="503.60" y2="445.80" stroke="#000" stroke-width="1.7" />
<text x="464.56" y="452.20" font-family="Liberation Sans, sans-serif" font-size="18.3" fill="#1e1e1e">50</text>
<line x1="503.60" y1="644.90" x2="503.60" y2="650.90" stroke="#000" stroke-width="1.7" />
<line x1="620.77" y1="644.90" x2="620.77" y2="650.90" stroke="#000" stroke-width="1.7" />
<line x1="737.94" y1="644.90" x2="737.94" y2="650.90" stroke="#000" stroke-width="1.7" />
<line x1="855.11" y1="644.90" x2="855.11" y2="650.90" stroke="#000" stroke-width="1.7" />
<path d="M548.45,644.90V474.90H576.15V644.90" fill="#f2f2f2" stroke="#111" stroke-width="1.7"/>
<rect x="557.50" y="473.00" width="9.60" height="3.20" rx="0.8" fill="#000"/>
<path d="M665.65,644.90V474.20H693.35V644.90" fill="#f2f2f2" stroke="#111" stroke-width="1.7"/>
<line x1="679.50" y1="468.60" x2="679.50" y2="480.20" stroke="#000" stroke-width="1.5" />
<line x1="674.70" y1="468.60" x2="684.30" y2="468.60" stroke="#000" stroke-width="1.6" />
<line x1="674.70" y1="480.20" x2="684.30" y2="480.20" stroke="#000" stroke-width="1.6" />
<path d="M783.15,644.90V518.40H810.85V644.90" fill="#f2f2f2" stroke="#111" stroke-width="1.7"/>
<rect x="792.20" y="516.90" width="9.60" height="2.80" rx="0.8" fill="#000"/>
<text x="662.11" y="453.50" font-family="Liberation Sans, sans-serif" font-size="23.36" font-style="italic" fill="#1e1e1e" >n.s.</text>
<text x="784.35" y="509.87" font-family="Liberation Sans, sans-serif" font-size="21.50" font-style="normal" fill="#1e1e1e" textLength="25.18" lengthAdjust="spacingAndGlyphs" >***</text>
<text x="529.03" y="681.30" font-family="Liberation Sans, sans-serif" font-size="17.92" font-style="normal" fill="#1e1e1e" >No virus</text>
<text x="524.92" y="702.20" font-family="Liberation Sans, sans-serif" font-size="18.00" font-style="normal" fill="#1e1e1e" >+WNT5A</text>
<text x="629.50" y="681.20" font-family="Liberation Sans, sans-serif" font-size="17.80" font-style="normal" fill="#1e1e1e" textLength="56.69" lengthAdjust="spacingAndGlyphs" >Control</text>
<text x="693.94" y="681.20" font-family="Liberation Sans, sans-serif" font-size="17.80" font-style="normal" fill="#1e1e1e" textLength="35.80" lengthAdjust="spacingAndGlyphs" >virus</text>
<text x="642.22" y="702.20" font-family="Liberation Sans, sans-serif" font-size="18.07" font-style="normal" fill="#1e1e1e" >+WNT5A</text>
<text x="743.08" y="681.00" font-family="Liberation Sans, sans-serif" font-size="18.13" font-style="normal" fill="#1e1e1e" >SHISA2 virus</text>
<text x="759.42" y="702.00" font-family="Liberation Sans, sans-serif" font-size="18.05" font-style="normal" fill="#1e1e1e" >+WNT5A</text>
<text x="0" y="0" transform="translate(421.80,606.93) rotate(-90)" font-family="Liberation Sans, sans-serif" font-size="17.80" fill="#1e1e1e" >% degradation</text>
<text x="0" y="0" transform="translate(443.30,641.86) rotate(-90)" font-family="Liberation Sans, sans-serif" font-size="18.00" fill="#1e1e1e" >after Wnt5a stimulation</text>
<text x="675.87" y="773.50" font-family="Liberation Serif, serif" font-size="30.5" font-weight="bold" fill="#111" style="stroke:none">d</text>
<text x="666.55" y="773.50" font-family="Liberation Serif, serif" font-size="28.5" fill="#111" style="stroke:none">(</text>
<text x="693.56" y="773.50" font-family="Liberation Serif, serif" font-size="28.5" fill="#111" style="stroke:none">)</text>
<line x1="527.00" y1="807.30" x2="527.00" y2="1079.30" stroke="#000" stroke-width="1.9" />
<line x1="527.00" y1="1079.30" x2="852.00" y2="1079.30" stroke="#000" stroke-width="1.9" />
<line x1="520.20" y1="1079.30" x2="527.00" y2="1079.30" stroke="#000" stroke-width="1.9" />
<text x="488.56" y="1087.50" font-family="Liberation Sans, sans-serif" font-size="22.9" fill="#1e1e1e">0</text>
<line x1="520.20" y1="1024.90" x2="527.00" y2="1024.90" stroke="#000" stroke-width="1.9" />
<text x="463.09" y="1033.10" font-family="Liberation Sans, sans-serif" font-size="22.9" fill="#1e1e1e">200</text>
<line x1="520.20" y1="970.50" x2="527.00" y2="970.50" stroke="#000" stroke-width="1.9" />
<text x="463.09" y="978.70" font-family="Liberation Sans, sans-serif" font-size="22.9" fill="#1e1e1e">400</text>
<line x1="520.20" y1="916.10" x2="527.00" y2="916.10" stroke="#000" stroke-width="1.9" />
<text x="463.09" y="924.30" font-family="Liberation Sans, sans-serif" font-size="22.9" fill="#1e1e1e">600</text>
<line x1="520.20" y1="861.70" x2="527.00" y2="861.70" stroke="#000" stroke-width="1.9" />
<text x="463.09" y="869.90" font-family="Liberation Sans, sans-serif" font-size="22.9" fill="#1e1e1e">800</text>
<line x1="520.20" y1="807.30" x2="527.00" y2="807.30" stroke="#000" stroke-width="1.9" />
<text x="450.35" y="815.50" font-family="Liberation Sans, sans-serif" font-size="22.9" fill="#1e1e1e">1000</text>
<line x1="527.00" y1="1079.30" x2="527.00" y2="1086.20" stroke="#000" stroke-width="1.9" />
<line x1="689.50" y1="1079.30" x2="689.50" y2="1086.20" stroke="#000" stroke-width="1.9" />
<line x1="852.00" y1="1079.30" x2="852.00" y2="1086.20" stroke="#000" stroke-width="1.9" />
<path d="M589.20,1079.30V856.10H627.80V1079.30" fill="#f2f2f2" stroke="#111" stroke-width="1.9"/>
<line x1="608.50" y1="852.75" x2="608.50" y2="858.80" stroke="#000" stroke-width="1.5" />
<line x1="602.10" y1="852.75" x2="614.90" y2="852.75" stroke="#000" stroke-width="1.6" />
<line x1="602.10" y1="858.80" x2="614.90" y2="858.80" stroke="#000" stroke-width="1.6" />
<path d="M751.70,1079.30V926.90H790.30V1079.30" fill="#f2f2f2" stroke="#111" stroke-width="1.9"/>
<rect x="764.60" y="924.10" width="12.80" height="4.60" rx="0.8" fill="#000"/>
<line x1="562.20" y1="836.00" x2="822.20" y2="836.00" stroke="#000" stroke-width="1.9" />
<text x="675.26" y="830.49" font-family="Liberation Sans, sans-serif" font-size="27.00" font-style="normal" fill="#1e1e1e" textLength="33.66" lengthAdjust="spacingAndGlyphs" >***</text>
<text x="541.83" y="1126.30" font-family="Liberation Sans, sans-serif" font-size="23.00" font-style="normal" fill="#1e1e1e" textLength="74.81" lengthAdjust="spacingAndGlyphs" >Control</text>
<text x="625.92" y="1126.30" font-family="Liberation Sans, sans-serif" font-size="23.00" font-style="normal" fill="#1e1e1e" textLength="47.51" lengthAdjust="spacingAndGlyphs" >virus</text>
<text x="711.41" y="1126.10" font-family="Liberation Sans, sans-serif" font-size="23.00" font-style="normal" fill="#1e1e1e" textLength="58.81" lengthAdjust="spacingAndGlyphs" >DVL1</text>
<text x="779.62" y="1126.10" font-family="Liberation Sans, sans-serif" font-size="23.00" font-style="normal" fill="#1e1e1e" textLength="48.81" lengthAdjust="spacingAndGlyphs" >virus</text>
<text x="0" y="0" transform="translate(425.30,1078.16) rotate(-90)" font-family="Liberation Sans, sans-serif" font-size="22.70" fill="#1e1e1e" textLength="73.64" lengthAdjust="spacingAndGlyphs" >Median</text>
<text x="0" y="0" transform="translate(425.30,993.32) rotate(-90)" font-family="Liberation Sans, sans-serif" font-size="22.70" fill="#1e1e1e" textLength="129.03" lengthAdjust="spacingAndGlyphs" >fluorescence</text>
<text x="0" y="0" transform="translate(425.30,855.21) rotate(-90)" font-family="Liberation Sans, sans-serif" font-size="22.70" fill="#1e1e1e" textLength="53.22" lengthAdjust="spacingAndGlyphs" >(a.u.)</text>
<text x="679.06" y="1168.70" font-family="Liberation Serif, serif" font-size="30.5" font-weight="bold" fill="#111" style="stroke:none">f</text>
<text x="669.25" y="1168.70" font-family="Liberation Serif, serif" font-size="28.5" fill="#111" style="stroke:none">(</text>
<text x="690.06" y="1168.70" font-family="Liberation Serif, serif" font-size="28.5" fill="#111" style="stroke:none">)</text>
</svg>
</body></html>
